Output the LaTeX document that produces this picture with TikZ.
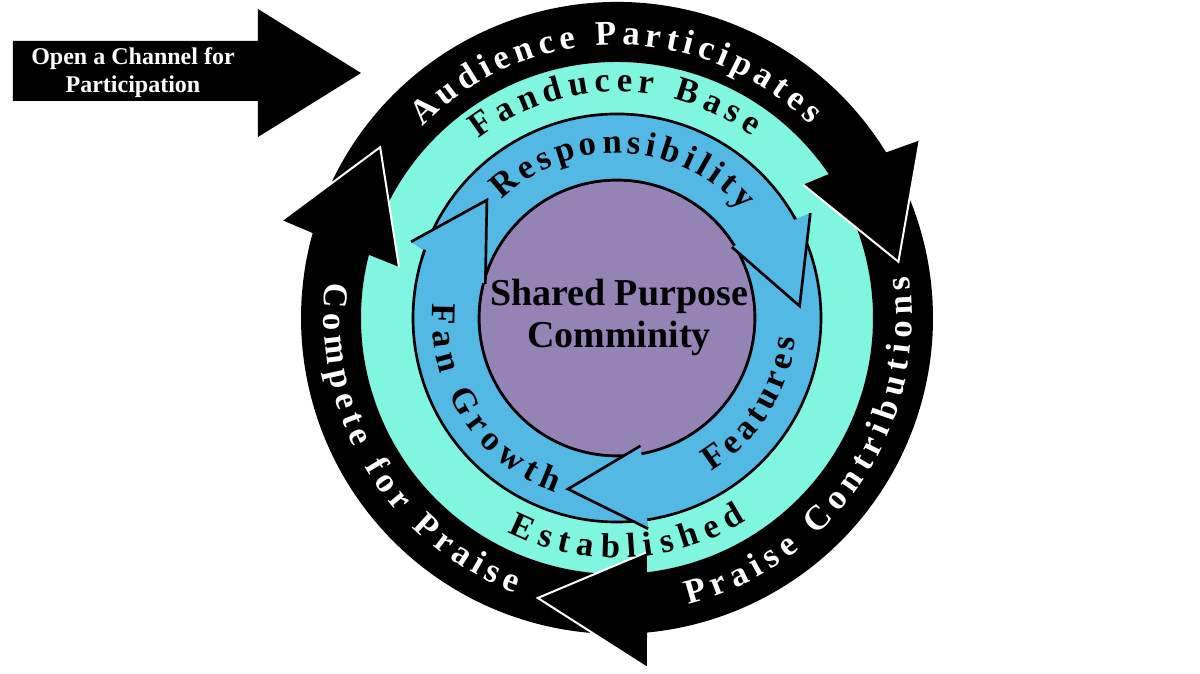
\documentclass[tikz,border=0pt]{standalone}
\usepackage{fontspec}
\setmainfont{Liberation Serif}
\usetikzlibrary{decorations.text}
\definecolor{ringcyan}{RGB}{128,246,224}
\definecolor{ringblue}{RGB}{83,184,228}
\definecolor{corepurple}{RGB}{148,132,181}
\newcommand\rtfont{\bfseries\fontsize{26}{26}\selectfont}
\newcommand\ringlabel[5]{%
  \path[decorate,decoration={text along path,text align=fit to path,text={|\rtfont\color{#4}|#5}}]
    (#2:#1) arc[start angle=#2,end angle=#3,radius=#1];}
\tikzset{
  headedge/.style={white,line width=1.5pt},
  blueedge/.style={black,line width=2pt},
}
\begin{document}
\begin{tikzpicture}[x=0.75pt,y=0.75pt]
\useasboundingbox (-617,-356) rectangle (583,318);
% cyan ring
\fill[ringcyan] (0,0) circle[radius=256];
% black outer arrows (fills)
\fill[black] (158:316) arc[start angle=158,end angle=31.6,radius=316]
  -- (30.4:351) -- (11.3:287) -- (35.6:229) -- (34.2:256)
  arc[start angle=34.2,end angle=158,radius=256] -- cycle;
\fill[black] (27:316) arc[start angle=27,end angle=-84.55,radius=316]
  -- (-85.1:351) -- (-105.8:291) -- (-82.7:236) -- (-83.27:256)
  arc[start angle=-83.27,end angle=27,radius=256] -- cycle;
\fill[black] (-89:316) arc[start angle=-89,end angle=-195.6,radius=316]
  -- (163.7:349) -- (144.2:292) -- (166.8:224) -- (165.7:256)
  arc[start angle=-194.3,end angle=-89,radius=256] -- cycle;
% white edges of the black heads
\draw[headedge] (30.4:351) -- (11.3:287) -- (35.6:229);
\draw[headedge] (-85.1:351) -- (-105.8:291) -- (-82.7:236);
\draw[headedge] (163.7:349) -- (144.2:292) -- (166.8:224);
% purple core
\filldraw[fill=corepurple,draw=black,line width=2pt] (0,0) circle[radius=138];
% blue arrows (fills)
\fill[ringblue] (163:204) arc[start angle=163,end angle=28.9,radius=204]
  -- (28.5:220) -- (3.75:183) -- (31.7:135) -- (31.5:138)
  arc[start angle=31.5,end angle=163,radius=138] -- cycle;
\fill[ringblue] (30:204) arc[start angle=30,end angle=-81.5,radius=204]
  -- (-81.6:213) -- (-106:178) -- (-79.6:130) -- (-79.8:138)
  arc[start angle=-79.8,end angle=30,radius=138] -- cycle;
\fill[ringblue] (-80.5:204) arc[start angle=-80.5,end angle=-199.2,radius=204]
  -- (159.7:219.6) -- (137.8:175.6) -- (165.5:136) -- (165.4:138)
  arc[start angle=-194.6,end angle=-80.5,radius=138] -- cycle;
% blue body outlines
\draw[blueedge] (163:204) arc[start angle=163,end angle=28.9,radius=204];
\draw[blueedge] (31.5:138) arc[start angle=31.5,end angle=163,radius=138];
\draw[blueedge] (30:204) arc[start angle=30,end angle=-81.5,radius=204];
\draw[blueedge] (-79.8:138) arc[start angle=-79.8,end angle=30,radius=138];
\draw[blueedge] (-80.5:204) arc[start angle=-80.5,end angle=-199.2,radius=204];
\draw[blueedge] (165.4:138) arc[start angle=-194.6,end angle=-80.5,radius=138];
% blue heads on top
\fill[ringblue] (28.5:220) -- (3.75:183) -- (31.7:135) -- cycle;
\draw[blueedge] (28.5:220) -- (3.75:183) -- (31.7:135);
\fill[ringblue] (-81.6:213) -- (-106:178) -- (-79.6:130) -- cycle;
\draw[blueedge] (-81.6:213) -- (-106:178) -- (-79.6:130);
\fill[ringblue] (159.7:219.6) -- (137.8:175.6) -- (165.5:136) -- cycle;
\draw[blueedge] (159.7:219.6) -- (137.8:175.6) -- (165.5:136);
% ring labels
\ringlabel{273}{135.5}{45}{white}{Audience Participates}
\ringlabel{295}{-76}{8.2}{white}{Praise Contributions}
\ringlabel{293}{173}{249.6}{white}{Compete for Praise}
\ringlabel{226}{127.6}{53.4}{black}{Fanducer Base}
\ringlabel{240}{243}{302.5}{black}{Established}
\ringlabel{165}{134.5}{40.5}{black}{Responsibility}
\ringlabel{180}{-58.5}{-6.5}{black}{Features}
\ringlabel{185}{175.6}{250.6}{black}{Fan Growth}
% centre text
\node[font=\bfseries\fontsize{28.5}{32}\selectfont,align=center,inner sep=0pt] (core) at (2,0.5) {Shared Purpose\\Comminity};
% open a channel arrow
\fill[black] (-604,277) -- (-359,277) -- (-359,309) -- (-256,245) -- (-359,181) -- (-359,217) -- (-604,217) -- cycle;
\node[font=\bfseries\fontsize{18}{21}\selectfont,text=white,align=center,inner sep=0pt] (open) at (-484,245) {Open a Channel for\\Participation};
\end{tikzpicture}
\end{document}
